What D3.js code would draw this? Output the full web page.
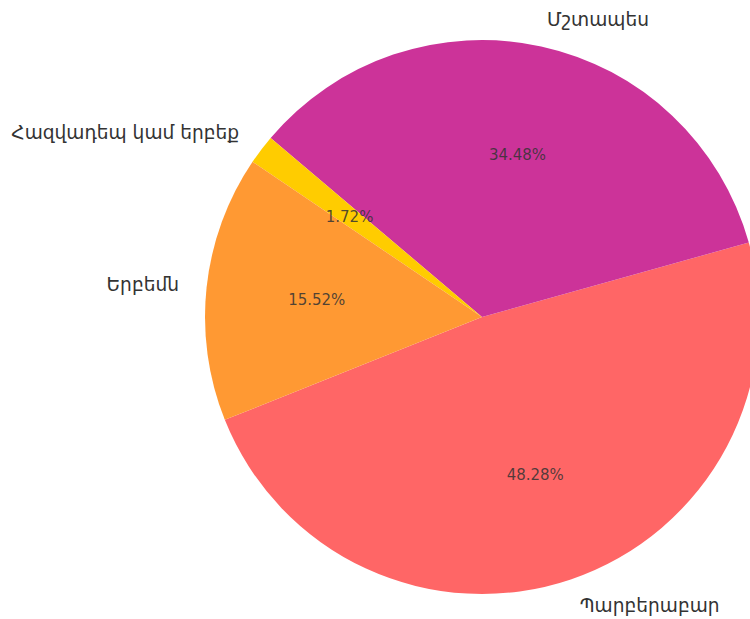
<!DOCTYPE html>
<html>
<head>
<meta charset="utf-8">
<script src="https://cdn.jsdelivr.net/npm/d3@7"></script>
<style>
  body { margin: 0; background: #fff; }
  text { font-family: "DejaVu Sans", sans-serif; }
</style>
</head>
<body>
<script>
var width = 750;
var height = 619;

// slices in counterclockwise order, as drawn
var categories = ["Պարբերաբար", "Մշտապես", "Հազվադեպ կամ երբեք", "Երբեմն"];
var counts = [28, 20, 1, 9];
var colors = ["#ff6666", "#cc3399", "#ffcc00", "#ff9933"];

var cx = 482, cy = 317;
var radius = 277;
// start angle of first slice, in degrees counterclockwise from 3 o'clock
var startDeg = 201.8;

var svg = d3.select("body")
    .append("svg")
    .attr("width", width)
    .attr("height", height);

var g = svg.append("g")
    .attr("transform", "translate(" + cx + "," + cy + ")");

var a0 = (90 - startDeg) * Math.PI / 180;
var pie = d3.pie()
    .sort(null)
    .value(function(d) { return d; })
    .startAngle(a0)
    .endAngle(a0 - 2 * Math.PI);

var total = d3.sum(counts);
var slices = pie(counts);

var arc = d3.arc().innerRadius(0).outerRadius(radius);
var labelArc = d3.arc().innerRadius(radius * 1.1).outerRadius(radius * 1.1);
var pctArc = d3.arc().innerRadius(radius * 0.6).outerRadius(radius * 0.6);

g.selectAll("path.slice")
    .data(slices)
  .enter().append("path")
    .attr("class", "slice")
    .attr("d", arc)
    .attr("fill", function(d, i) { return colors[i]; });

g.selectAll("text.label")
    .data(slices)
  .enter().append("text")
    .attr("class", "label")
    .attr("x", function(d) { return labelArc.centroid(d)[0]; })
    .attr("y", function(d) { return labelArc.centroid(d)[1]; })
    .attr("dy", "0.35em")
    .attr("text-anchor", function(d) { return labelArc.centroid(d)[0] > 0 ? "start" : "end"; })
    .attr("font-size", 18.6)
    .attr("fill", "#333")
    .text(function(d, i) { return categories[i]; });

g.selectAll("text.pct")
    .data(slices)
  .enter().append("text")
    .attr("class", "pct")
    .attr("x", function(d) { return pctArc.centroid(d)[0]; })
    .attr("y", function(d) { return pctArc.centroid(d)[1]; })
    .attr("dy", "0.35em")
    .attr("text-anchor", "middle")
    .attr("font-size", 15)
    .attr("fill", "#333")
    .attr("fill-opacity", 0.85)
    .text(function(d) { return (d.value / total * 100).toFixed(2) + "%"; });
</script>
</body>
</html>
